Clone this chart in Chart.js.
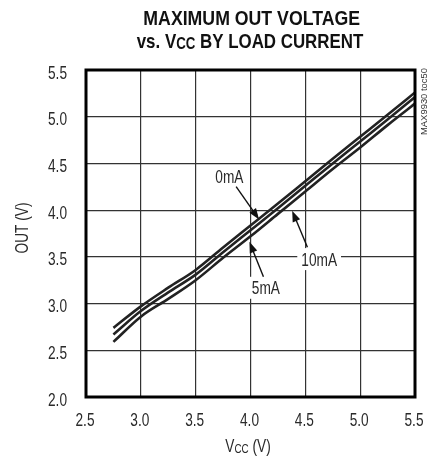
<!DOCTYPE html>
<html>
<head>
<meta charset="utf-8">
<script src="https://cdn.jsdelivr.net/npm/chart.js@4"></script>
<style>
html,body{margin:0;padding:0;background:#fff;}
#wrap{width:435px;height:459px;position:relative;}
</style>
</head>
<body>
<div id="wrap"><canvas id="c" width="435" height="459"></canvas></div>
<script>
const vccValues = [2.75, 3.0, 3.25, 3.5, 3.75, 4.0, 4.25, 4.5, 4.75, 5.0, 5.25, 5.5];
const out0mA  = [2.74, 2.97, 3.17, 3.36, 3.60, 3.835, 4.07, 4.31, 4.55, 4.785, 5.02, 5.26];
const out5mA  = [2.67, 2.92, 3.12, 3.31, 3.55, 3.785, 4.02, 4.26, 4.50, 4.735, 4.97, 5.21];
const out10mA = [2.59, 2.86, 3.05, 3.25, 3.49, 3.72, 3.96, 4.20, 4.44, 4.67, 4.91, 5.14];
const seriesLabels = ['0mA', '5mA', '10mA'];
const xTickValues = [2.5, 3.0, 3.5, 4.0, 4.5, 5.0, 5.5];
const yTickValues = [2.0, 2.5, 3.0, 3.5, 4.0, 4.5, 5.0, 5.5];

const FAM = "'Liberation Sans', Arimo, Arial, sans-serif";
const SX = 0.76;          // horizontal condensing of the regular text
const TXT = '#2a2a2a';

// draws a run of [text, fontSize, bold, dy] parts, condensed by sx
function drawRuns(ctx, runs, x, y, align, sx){
  ctx.save();
  let w = 0;
  runs.forEach(r => { ctx.font = (r[2] ? 'bold ' : '') + r[1] + 'px ' + FAM; w += ctx.measureText(r[0]).width; });
  let start = align === 'center' ? -w/2 : (align === 'right' ? -w : 0);
  ctx.translate(x, y);
  ctx.scale(sx, 1);
  ctx.textAlign = 'left'; ctx.textBaseline = 'alphabetic';
  let cx = start;
  runs.forEach(r => {
    ctx.font = (r[2] ? 'bold ' : '') + r[1] + 'px ' + FAM;
    ctx.fillText(r[0], cx, r[3] || 0);
    cx += ctx.measureText(r[0]).width;
  });
  ctx.restore();
  return w * sx;
}
function runsWidth(ctx, runs){
  let w = 0;
  ctx.save();
  runs.forEach(r => { ctx.font = (r[2] ? 'bold ' : '') + r[1] + 'px ' + FAM; w += ctx.measureText(r[0]).width; });
  ctx.restore();
  return w;
}

function pts(ys){ return vccValues.map((x,i)=>({x:x, y:ys[i]})); }

function drawArrow(ctx, x1, y1, x2, y2){
  const ang = Math.atan2(y2-y1, x2-x1);
  const hl = 11, hw = 4;
  ctx.save();
  ctx.strokeStyle = '#111'; ctx.fillStyle = '#111'; ctx.lineWidth = 1.4;
  ctx.beginPath(); ctx.moveTo(x1,y1);
  ctx.lineTo(x2 - Math.cos(ang)*hl*0.8, y2 - Math.sin(ang)*hl*0.8); ctx.stroke();
  ctx.beginPath();
  ctx.moveTo(x2,y2);
  ctx.lineTo(x2 - Math.cos(ang)*hl + Math.sin(ang)*hw, y2 - Math.sin(ang)*hl - Math.cos(ang)*hw);
  ctx.lineTo(x2 - Math.cos(ang)*hl - Math.sin(ang)*hw, y2 - Math.sin(ang)*hl + Math.cos(ang)*hw);
  ctx.closePath(); ctx.fill();
  ctx.restore();
}

const annotations = [
  {text: seriesLabels[0], tx: 3.807, ty: 4.358, ax: 3.869, ay: 4.251, bx: 4.078, by: 3.901},
  {text: seriesLabels[1], tx: 4.140, ty: 3.169, ax: 4.118, ay: 3.287, bx: 3.990, by: 3.662},
  {text: seriesLabels[2], tx: 4.626, ty: 3.476, ax: 4.519, ay: 3.602, bx: 4.380, by: 3.994}
];

const decor = {
  id: 'decor',
  afterDatasetsDraw(chart){
    const ctx = chart.ctx, a = chart.chartArea;
    const xs = chart.scales.x, ys = chart.scales.y;
    ctx.save();
    annotations.forEach(an => {
      const tx = xs.getPixelForValue(an.tx), ty = ys.getPixelForValue(an.ty);
      const w = runsWidth(ctx, [[an.text, 18, false]]) * SX;
      ctx.fillStyle = '#fff';
      ctx.fillRect(tx - w/2 - 4, ty - 11, w + 8, 22);
      ctx.fillStyle = TXT;
      drawRuns(ctx, [[an.text, 18, false]], tx, ty + 6.5, 'center', SX);
      drawArrow(ctx, xs.getPixelForValue(an.ax), ys.getPixelForValue(an.ay),
                     xs.getPixelForValue(an.bx), ys.getPixelForValue(an.by));
    });
    ctx.strokeStyle = '#000'; ctx.lineWidth = 3;
    ctx.strokeRect(a.left, a.top, a.right - a.left, a.bottom - a.top);
    ctx.restore();
  },
  afterDraw(chart){
    const ctx = chart.ctx, a = chart.chartArea;
    const xs = chart.scales.x, ys = chart.scales.y;
    ctx.save();
    // tick labels
    ctx.fillStyle = TXT;
    xTickValues.forEach(v => {
      drawRuns(ctx, [[v.toFixed(1), 18, false]], xs.getPixelForValue(v) - 1, 426, 'center', SX);
    });
    yTickValues.forEach(v => {
      drawRuns(ctx, [[v.toFixed(1), 18, false]], 67, ys.getPixelForValue(v) + 8.5, 'right', SX);
    });
    // title (fit to measured widths)
    ctx.fillStyle = '#111';
    const t1 = [['MAXIMUM OUT VOLTAGE', 21, true]];
    drawRuns(ctx, t1, 251.7, 25, 'center', 216.7 / runsWidth(ctx, t1));
    const t2 = [['vs. V', 21, true], ['CC', 16.5, true, 1], [' BY LOAD CURRENT', 21, true]];
    drawRuns(ctx, t2, 250, 47.5, 'center', 226.6 / runsWidth(ctx, t2));
    // x axis title
    ctx.fillStyle = TXT;
    drawRuns(ctx, [['V', 18, false], ['CC', 13, false, 1], [' (V)', 18, false]], 248, 452, 'center', SX);
    // y axis title
    ctx.save();
    ctx.translate(28, 228);
    ctx.rotate(-Math.PI/2);
    drawRuns(ctx, [['OUT (V)', 18, false]], 0, 0, 'center', SX);
    ctx.restore();
    // side code
    ctx.save();
    ctx.translate(427, 135);
    ctx.rotate(-Math.PI/2);
    ctx.fillStyle = '#333';
    const sc = [['MAX9930 toc50', 9, false]];
    drawRuns(ctx, sc, 0, 0, 'left', 67 / runsWidth(ctx, sc));
    ctx.restore();
    ctx.restore();
  }
};

const lineStyle = {borderColor:'#222', borderWidth:2.6, pointRadius:0, fill:false,
  tension:0.4, cubicInterpolationMode:'monotone'};

new Chart(document.getElementById('c'), {
  type: 'line',
  data: {
    datasets: [
      Object.assign({label: seriesLabels[0], data: pts(out0mA)}, lineStyle),
      Object.assign({label: seriesLabels[1], data: pts(out5mA)}, lineStyle),
      Object.assign({label: seriesLabels[2], data: pts(out10mA)}, lineStyle)
    ]
  },
  options: {
    responsive: false,
    animation: false,
    devicePixelRatio: 1,
    layout: {padding: {top: 70, right: 20, bottom: 0, left: 0}},
    plugins: {legend: {display:false}, title: {display:false}, tooltip: {enabled:false}},
    scales: {
      x: {
        type: 'linear', min: 2.5, max: 5.5,
        afterFit(s){ s.height = 62; },
        afterBuildTicks(s){ s.ticks = xTickValues.map(v => ({value: v})); },
        grid: {color:'#333', lineWidth:1.2, drawTicks:false},
        border: {display:false},
        ticks: {display:false}
      },
      y: {
        type: 'linear', min: 2.0, max: 5.5,
        afterFit(s){ s.width = 86; },
        afterBuildTicks(s){ s.ticks = yTickValues.map(v => ({value: v})); },
        grid: {color:'#333', lineWidth:1.2, drawTicks:false},
        border: {display:false},
        ticks: {display:false}
      }
    }
  },
  plugins: [decor]
});
</script>
</body>
</html>
